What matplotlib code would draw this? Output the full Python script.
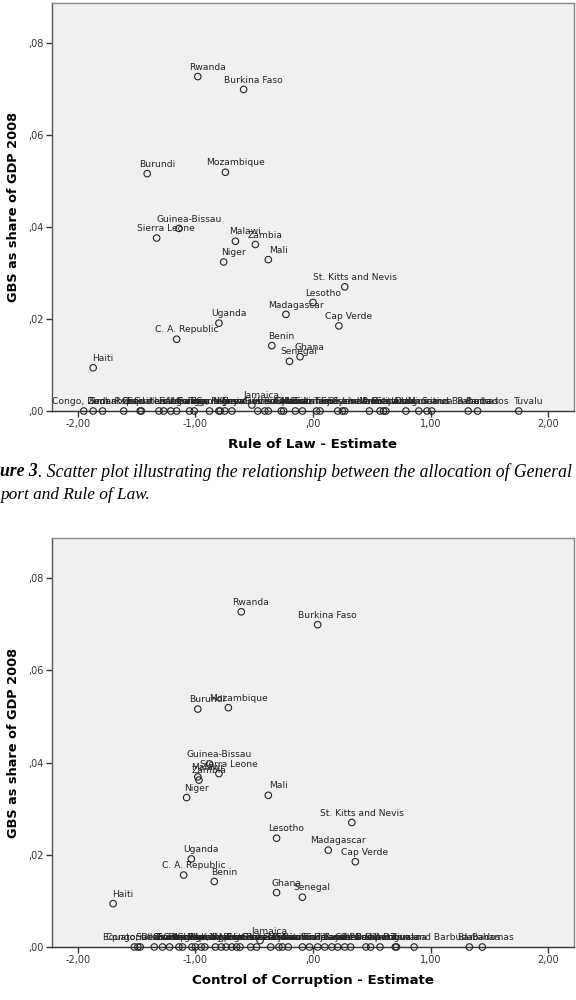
import matplotlib
matplotlib.use("Agg")
import matplotlib.pyplot as plt

plt.rcParams['font.family'] = ['DejaVu Sans']

# countries that got General Budget Support in 2008
gbs_names = ["Rwanda", "Burkina Faso", "Burundi", "Mozambique", "Guinea-Bissau",
             "Sierra Leone", "Malawi", "Zambia", "Niger", "Mali",
             "St. Kitts and Nevis", "Lesotho", "Madagascar", "Cap Verde", "Uganda",
             "C. A. Republic", "Benin", "Ghana", "Senegal", "Haiti"]
gbs_share = [0.0727, 0.0699, 0.0516, 0.0519, 0.0397,
             0.0376, 0.0369, 0.0362, 0.0324, 0.0329,
             0.0270, 0.0236, 0.0210, 0.0185, 0.0191,
             0.0156, 0.0142, 0.0118, 0.0108, 0.0094]
gbs_rule_of_law = [-0.98, -0.59, -1.41, -0.745, -1.14,
                   -1.33, -0.66, -0.49, -0.76, -0.38,
                   0.27, 0.0, -0.23, 0.22, -0.80,
                   -1.16, -0.35, -0.11, -0.20, -1.87]
gbs_corruption = [-0.61, 0.04, -0.98, -0.72, -0.88,
                  -0.80, -0.98, -0.97, -1.075, -0.38,
                  0.33, -0.31, 0.13, 0.36, -1.035,
                  -1.10, -0.84, -0.31, -0.09, -1.70]

# countries with no GBS (labels mostly overlap on the baseline)
rol_zero_names = ["Congo, Dem. Rep.", "Sudan", "Zimbabwe", "Chad", "Guinea", "Cote d'Ivoire",
                  "Equatorial Guinea", "Eritrea", "Angola", "Liberia", "Togo", "Congo, Rep.",
                  "Cameroon", "Nigeria", "Kenya", "Papua New Guinea", "Comoros", "Jamaica",
                  "Guatemala", "Honduras", "Bolivia", "Gambia", "Djibouti", "Mauritania",
                  "Swaziland", "Fiji", "Solomon Islands", "Sao Tome and Principe", "Seychelles",
                  "Suriname", "Vanuatu", "Grenada", "Botswana", "St. Lucia", "Dominica",
                  "Mauritius", "Samoa", "Antigua and Barbuda", "Bahamas", "Barbados", "Tuvalu"]
rol_zero_x = [-1.95, -1.87, -1.79, -1.61, -1.47, -1.46, -1.31, -1.27, -1.21, -1.16, -1.05,
              -1.01, -0.88, -0.80, -0.79, -0.75, -0.69, -0.52, -0.47, -0.41, -0.38, -0.27,
              -0.25, -0.15, -0.09, 0.03, 0.06, 0.21, 0.25, 0.27, 0.48, 0.57, 0.60, 0.62,
              0.79, 0.90, 0.97, 1.01, 1.32, 1.40, 1.75]
rol_zero_y = [0.0] * 17 + [0.0013] + [0.0] * 23

cc_zero_names = ["Equatorial Guinea", "Congo, Dem. Rep.", "Sudan", "Chad", "Guinea", "Zimbabwe",
                 "Angola", "Cote d'Ivoire", "Liberia", "Congo, Rep.", "Cameroon", "Kenya",
                 "Nigeria", "Papua New Guinea", "Togo", "Eritrea", "Comoros", "Honduras",
                 "Bolivia", "Guatemala", "Jamaica", "Gambia", "Djibouti", "Mauritania",
                 "Swaziland", "Solomon Islands", "Fiji", "Suriname", "Sao Tome and Principe",
                 "Vanuatu", "Seychelles", "Grenada", "St. Lucia", "Dominica", "Samoa",
                 "Mauritius", "Botswana", "Tuvalu", "Antigua and Barbuda", "Barbados", "Bahamas"]
cc_zero_x = [-1.52, -1.49, -1.47, -1.35, -1.28, -1.22, -1.14, -1.11, -1.03, -1.00, -0.95,
             -0.92, -0.83, -0.78, -0.74, -0.69, -0.65, -0.62, -0.53, -0.48, -0.45, -0.36,
             -0.29, -0.26, -0.21, -0.09, -0.03, 0.04, 0.10, 0.16, 0.21, 0.27, 0.32, 0.45,
             0.49, 0.57, 0.70, 0.71, 0.86, 1.33, 1.44]
cc_zero_y = [0.0] * 20 + [0.0014] + [0.0] * 20

x_ticks = [-2, -1, 0, 1, 2]
x_tick_labels = ["-2,00", "-1,00", ",00", "1,00", "2,00"]
y_ticks = [0, 0.02, 0.04, 0.06, 0.08]
y_tick_labels = [",00", ",02", ",04", ",06", ",08"]

fig = plt.figure(figsize=(5.76, 10), dpi=100)


def scatter_panel(rect, xs, ys, names, xlabel):
    ax = fig.add_axes(rect)
    ax.set_facecolor("#f0f0f0")
    ax.scatter(xs, ys, s=22, facecolors="none", edgecolors="#222222",
               linewidths=0.8, clip_on=False, zorder=3)
    for x, y, n in zip(xs, ys, names):
        ax.annotate(n, (x, y), xytext=(7, 3.5), textcoords="offset points",
                    ha="center", va="bottom", fontsize=6.6, color="#222222",
                    annotation_clip=False, zorder=4)
    ax.set_xlim(-2.22, 2.22)
    ax.set_ylim(0, 0.0887)
    ax.set_xticks(x_ticks)
    ax.set_xticklabels(x_tick_labels)
    ax.set_yticks(y_ticks)
    ax.set_yticklabels(y_tick_labels)
    ax.tick_params(direction="out", length=4, width=1, color="#333333",
                   labelsize=7, labelcolor="#333333", pad=2)
    for s in ax.spines.values():
        s.set_color("#888888")
        s.set_linewidth(1)
    ax.spines["bottom"].set_color("#333333")
    ax.spines["left"].set_color("#555555")
    ax.set_xlabel(xlabel, fontsize=9.6, fontweight="bold", labelpad=6)
    ax.set_ylabel("GBS as share of GDP 2008", fontsize=9.3, fontweight="bold", labelpad=6)
    return ax


scatter_panel([52 / 576, 1 - 411 / 1000, 522 / 576, 408 / 1000],
              gbs_rule_of_law + rol_zero_x, gbs_share + rol_zero_y,
              gbs_names + rol_zero_names, "Rule of Law - Estimate")
scatter_panel([52 / 576, 1 - 947 / 1000, 522 / 576, 409 / 1000],
              gbs_corruption + cc_zero_x, gbs_share + cc_zero_y,
              gbs_names + cc_zero_names, "Control of Corruption - Estimate")

# caption (the page is cropped on the left side)
serif = ["Liberation Serif", "DejaVu Serif"]
t1 = fig.text(0, 1 - 472 / 1000, "ure 3", family=serif, fontsize=12.7,
              style="italic", fontweight="bold", va="center")
fig.text(0, 0, "", family=serif)
plt.annotate(". Scatter plot illustrating the relationship between the allocation of General",
             xy=(1, 0.5), xycoords=t1, va="center", ha="left",
             family=serif, fontsize=12.7, style="italic")
fig.text(0, 1 - 495 / 1000, "port and Rule of Law.", family=serif, fontsize=12.4,
         style="italic", va="center")

plt.savefig("out.png", dpi=100)
